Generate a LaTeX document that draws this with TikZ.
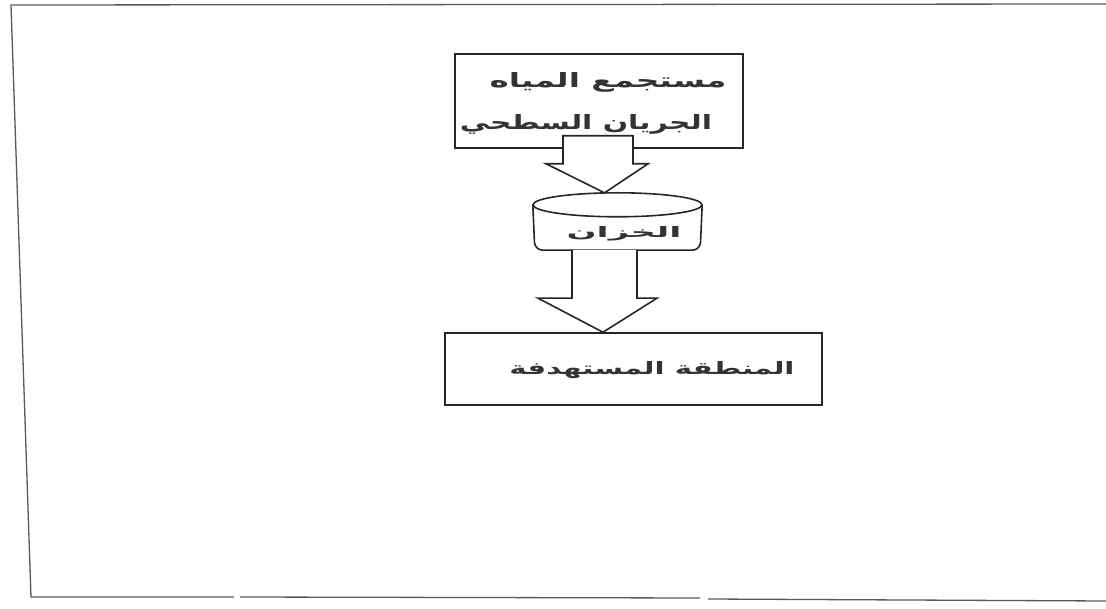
\documentclass[tikz,border=0pt]{standalone}
\usepackage{fontspec}
\usepackage{graphicx}
\newfontfamily\arabicfont[Script=Arabic]{DejaVu Sans}
\TeXXeTstate=1
\usetikzlibrary{calc}
\tikzset{
  ink/.style={draw=black!85, line width=1.6pt},
  frameline/.style={draw=black!65, line width=1.3pt},
  box/.style={ink, rectangle, inner sep=0pt},
  blockarrow/.style={ink, fill=white, line join=miter},
  txt/.style={inner sep=0pt, text=black!80, font=\arabicfont\bfseries},
}
\begin{document}
\begin{tikzpicture}[x=1pt,y=-1pt]
\useasboundingbox (0,0) rectangle (1106,609);
% outer frame
\draw[frameline] (1106,4) -- (11,5) -- (31,597) -- (234,597);
\draw[frameline] (240,597) -- (700,598);
\draw[frameline] (708,599) -- (1106,601);
% boxes
\node[box, minimum width=288pt, minimum height=94pt] (src) at (599,101) {};
\node[box, minimum width=377pt, minimum height=72pt] (dst) at (633.5,369) {};
% tank
\node[inner sep=0pt, minimum width=169pt, minimum height=57pt] (tank) at (617.5,221.5) {};
\draw[ink, fill=white] ($(tank.north)+(0,12)$) ellipse [x radius=84.5pt, y radius=12pt];
\draw[ink, rounded corners=8pt] ($(tank.north west)+(0,12)$) -- ($(tank.south west)+(2,0)$) -- ($(tank.south east)+(-2,0)$) -- ($(tank.north east)+(0,12)$);
% texts
\node[txt] (t1) at (608,82) {\resizebox{237pt}{15pt}{\beginR مستجمع المياه\endR}};
\node[txt] (t2) at (586,124) {\resizebox{252pt}{15pt}{\beginR الجريان السطحي\endR}};
\node[txt] (t3) at (624,234) {\resizebox{115pt}{11pt}{\beginR الخزان\endR}};
\node[txt] (t4) at (652,370) {\resizebox{285pt}{13pt}{\beginR المنطقة المستهدفة\endR}};
% block arrows
\draw[blockarrow] ($(src.south)+(-36,-13)$) -- ($(src.south)+(-36,15)$) -- ($(src.south)+(-53,15)$) -- ($(tank.north)+(-13,0)$) -- ($(src.south)+(49,15)$) -- ($(src.south)+(34,15)$) -- ($(src.south)+(34,-13)$) -- cycle;
\draw[blockarrow] ($(tank.south)+(-45.5,0)$) -- ($(tank.south)+(-45.5,48)$) -- ($(tank.south)+(-79.5,48)$) -- ($(dst.north)+(-30.5,0)$) -- ($(tank.south)+(39.5,48)$) -- ($(tank.south)+(19.5,48)$) -- ($(tank.south)+(19.5,0)$);
\end{tikzpicture}
\end{document}
